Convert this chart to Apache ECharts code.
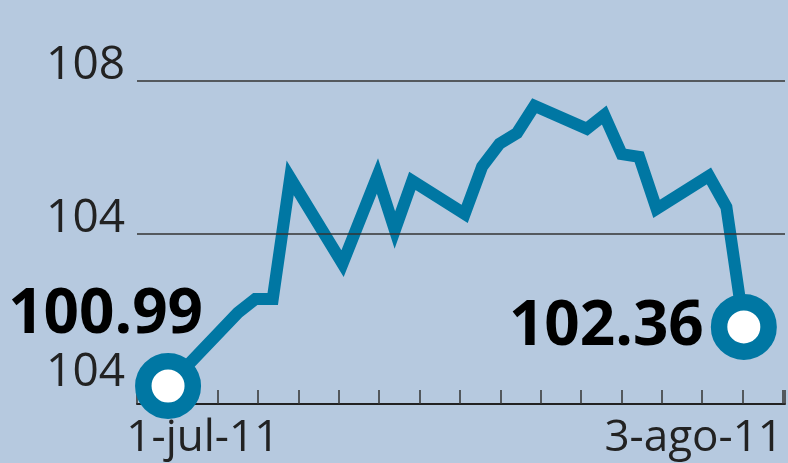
<!DOCTYPE html>
<html lang="es">
<head>
    <meta charset="UTF-8">
    <title></title>
    <style type="text/css">
        html,
        body,
        .canvas {
            padding: 0;
            margin: 0;
            overflow: hidden;
            background-color: #b6c9df;
            width: 100%;
            height: 100%;
        }
    </style>
</head>
<body>
<div class="canvas" id="chart"></div>
<script type="text/javascript" src="https://cdn.jsdelivr.net/npm/echarts@6.0.0/dist/echarts.min.js"></script>
<script>
    // serie diaria (días hábiles)
    const dates = ['2011-07-01', '2011-07-05', '2011-07-06', '2011-07-07', '2011-07-08', '2011-07-11',
        '2011-07-13', '2011-07-14', '2011-07-15', '2011-07-18', '2011-07-19', '2011-07-20',
        '2011-07-21', '2011-07-22', '2011-07-25', '2011-07-26', '2011-07-27', '2011-07-28',
        '2011-07-29', '2011-08-01', '2011-08-02', '2011-08-03'];
    const values = [100.04, 101.95, 102.31, 102.31, 105.47, 103.23,
        105.52, 104.11, 105.39, 104.53, 105.76, 106.36,
        106.64, 107.35, 106.75, 107.11, 106.09, 106.02,
        104.66, 105.52, 104.71, 101.58];
    const pointLabels = ['100.99', '102.36'];

    const yTickValues = [100, 104, 108];
    const yTickLabels = ['104', '104', '108'];
    const gridValues = [104, 108];
    const xTickValues = [1.63, 16];
    const xTickLabels = ['1-jul-11', '3-ago-11'];

    const BLUE = '#0077a3';
    const DAY = 86400000;
    const start = new Date(2011, 6, 1).getTime();

    const seriesData = values.map(function (v, i) {
        const last = values.length - 1;
        if (i !== 0 && i !== last) {
            return {value: [dates[i], v], symbol: 'none'};
        }
        return {
            value: [dates[i], v],
            symbol: 'circle',
            label: {
                show: true,
                position: 'left',
                distance: 5,
                offset: i === 0 ? [73, -71] : [-2, 0],
                formatter: i === 0 ? pointLabels[0] : pointLabels[1],
                fontFamily: 'Open Sans',
                fontWeight: 'bold',
                fontSize: 62,
                color: '#000'
            }
        };
    });

    const chart = echarts.init(document.getElementById('chart'));
    chart.setOption({
        backgroundColor: '#b6c9df',
        animation: false,
        grid: {left: 137, right: 3, top: 0, bottom: 59},
        xAxis: [{
            type: 'value',
            min: 0,
            max: 16.05,
            interval: 1,
            axisLine: {show: true, lineStyle: {color: '#222', width: 2}},
            axisTick: {show: true, inside: true, length: 14, lineStyle: {color: '#333', width: 1.5}},
            splitLine: {show: false},
            axisLabel: {
                customValues: xTickValues,
                formatter: function (v) {
                    return xTickLabels[xTickValues.indexOf(v)];
                },
                alignMinLabel: 'center',
                alignMaxLabel: 'right',
                margin: 12,
                fontFamily: 'Open Sans',
                fontSize: 44,
                color: '#222'
            }
        }, {
            type: 'time',
            show: false,
            min: start - 1.78 * DAY,
            max: start + 35.36 * DAY
        }],
        yAxis: {
            type: 'value',
            min: 99.57,
            max: 110.11,
            axisLine: {show: false},
            axisTick: {show: false},
            splitLine: {show: false},
            axisLabel: {
                customValues: yTickValues,
                formatter: function (v) {
                    return yTickLabels[yTickValues.indexOf(v)];
                },
                verticalAlign: 'bottom',
                lineHeight: 30,
                margin: 12,
                fontFamily: 'Open Sans',
                fontSize: 46,
                color: '#222'
            }
        },
        series: [{
            type: 'line',
            xAxisIndex: 1,
            data: [],
            z: 1,
            markLine: {
                silent: true,
                symbol: 'none',
                label: {show: false},
                lineStyle: {color: '#333', width: 1.5, type: 'solid'},
                data: gridValues.map(function (g) {
                    return {yAxis: g};
                })
            }
        }, {
            type: 'line',
            xAxisIndex: 1,
            z: 3,
            symbol: 'none',
            symbolSize: 49.5,
            data: seriesData,
            lineStyle: {color: BLUE, width: 12, join: 'miter', cap: 'butt'},
            itemStyle: {color: '#fff', borderColor: BLUE, borderWidth: 16.5},
            emphasis: {disabled: true}
        }]
    });
</script>
</body>
</html>
